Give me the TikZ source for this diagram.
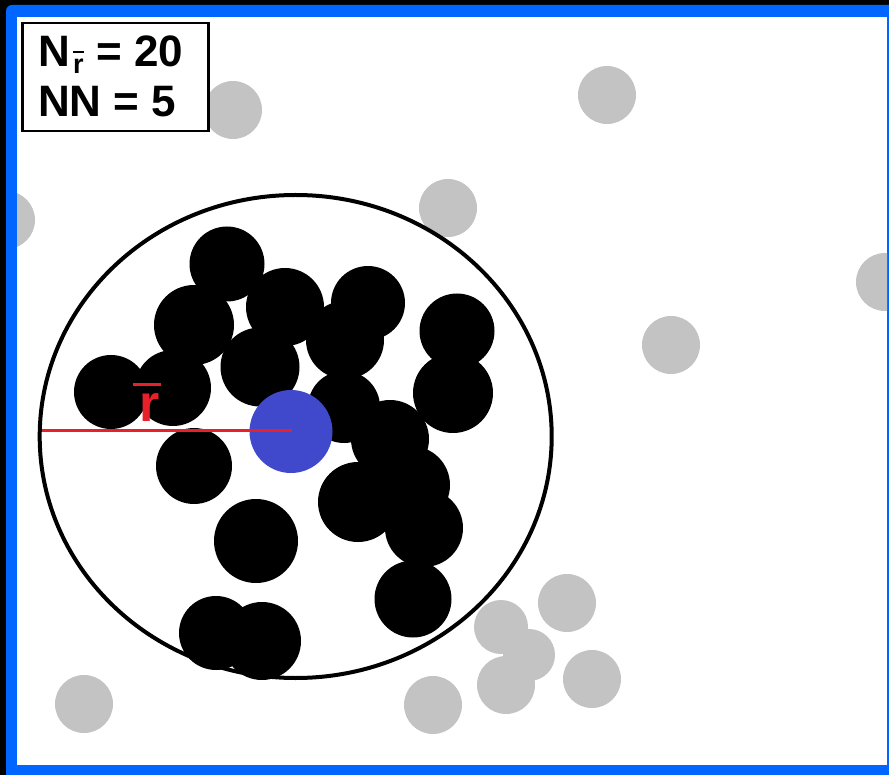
\documentclass[tikz,border=0pt]{standalone}
\usepackage{fontspec}
\setmainfont{Liberation Sans}
\definecolor{frameblue}{RGB}{0,102,255}
\definecolor{partgray}{RGB}{195,195,195}
\definecolor{centblue}{RGB}{64,72,204}
\definecolor{rred}{RGB}{232,32,42}
\tikzset{
  grayp/.style={fill=partgray},
  blackp/.style={fill=black},
  lbltext/.style={anchor=base west, inner sep=0pt, font=\fontsize{44}{44}\selectfont\bfseries},
}
\begin{document}
\begin{tikzpicture}[x=1pt,y=-1pt]
\useasboundingbox (0,0) rectangle (889,775);
\clip (0,0) rectangle (889,775);
% background and frame
\fill[black] (0,0) rectangle (889,775);
\fill[frameblue, rounded corners=6pt] (6,5) rectangle (910,800);
\fill[white] (17,17) rectangle (887,765);
% gray particles (outside)
\begin{scope}
\clip (17,17) rectangle (887,765);
\foreach \x/\y/\r in {233/110/29, 607/95/29, 448/208/29, 6/220/29, 885/282/29,
  671/345/29, 567/603/29, 501/627/27, 529/655/26, 506/685/29, 592/679/29,
  433/705/29, 84/704/29}
  \fill[grayp] (\x,\y) circle[radius=\r];
\end{scope}
% cut-off circle
\draw[line width=4pt] (295.7,436.5) ellipse[x radius=256, y radius=241.5];
% black particles (inside)
\foreach \x/\y/\r in {227/264/37.5, 194/325/40, 285/307/39, 368/303/37, 345/340/39,
  457/331/37.5, 453/393/40, 260/367/39.5, 111/392/37, 173/388/38,
  344/407/36, 390/439/39, 194/466/38, 411/485/39, 358/502/40,
  424/528/39, 256/541/42, 413/599/38.5, 216/633/37, 262/641/39}
  \fill[blackp] (\x,\y) circle[radius=\r];
% central particle
\fill[centblue] (291,431.5) circle[radius=41.5];
% radius line
\coordinate (rstart) at (42,431);
\coordinate (rend) at (292,431);
\draw[rred, line width=3pt] (rstart) -- (rend);
% r-bar label
\node[anchor=base, inner sep=0pt, text=rred, font=\fontsize{52}{52}\selectfont\bfseries] (rlabel) at (150,421.7) {r};
\fill[rred] (133.3,382.7) rectangle (161,386);
% info box
\node[draw=black, line width=2.5pt, anchor=north west, minimum width=186pt, minimum height=108pt, inner sep=0pt, fill=white] (box) at (21,22) {};
\node[lbltext] (l1) at (38,67) {N\kern3pt\raisebox{-7pt}{\fontsize{27}{27}\selectfont\ooalign{\rule[21pt]{11pt}{2.2pt}\cr\hfil r\hfil\cr}} = 20};
\node[lbltext] (l2) at (38,117) {NN = 5};
\end{tikzpicture}
\end{document}
